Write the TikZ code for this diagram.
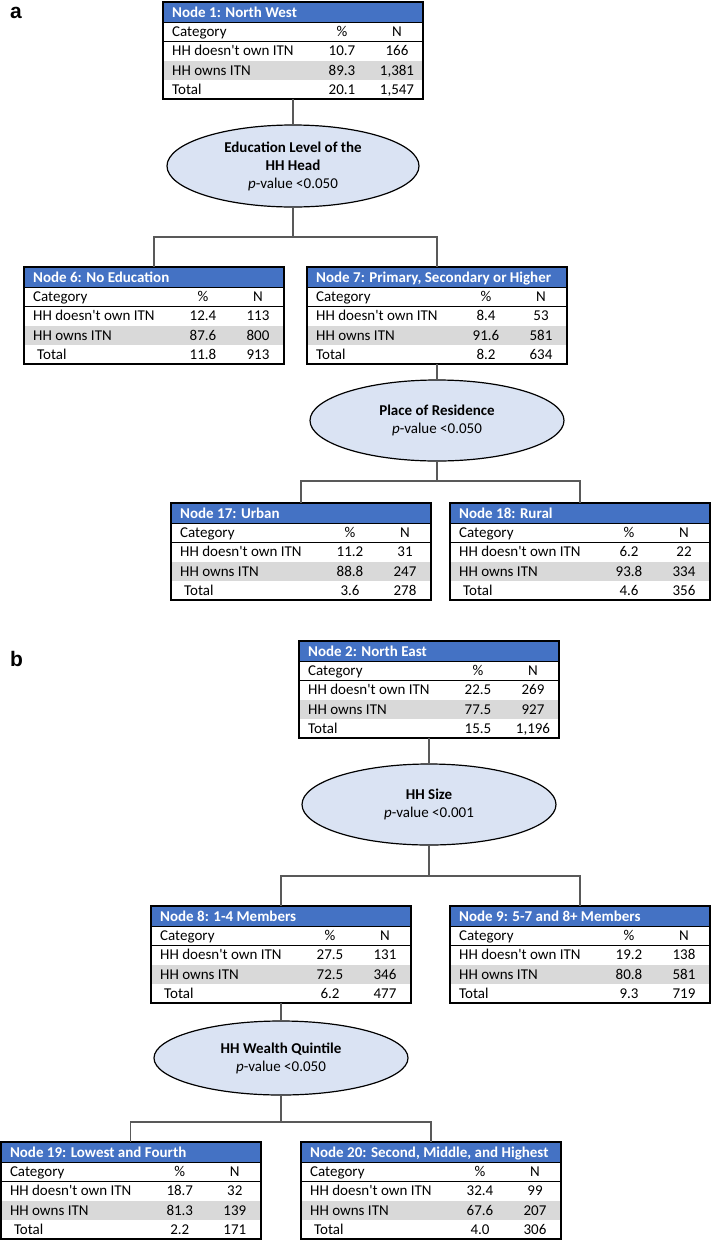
\documentclass[tikz,border=0pt]{standalone}
\usepackage{fontspec}
\setmainfont{Carlito}[Ligatures=TeXOff]
\newfontfamily\labelfont{Liberation Sans}
\usetikzlibrary{shapes.geometric}
\definecolor{hdrblue}{HTML}{4472C4}
\definecolor{rowgrey}{HTML}{D9D9D9}
\definecolor{ellfill}{HTML}{DAE3F3}
\definecolor{connc}{HTML}{595959}
\tikzset{
  boxframe/.style={draw=black, line width=1.6pt, minimum width=260pt, minimum height=97pt, inner sep=0pt, outer sep=0pt, anchor=north west},
  sepline/.style={draw=black, line width=0.8pt},
  celltext/.style={anchor=west, inner sep=0pt, text height=9.7pt, text depth=0pt, font=\fontsize{15}{18}\selectfont},
  numtext/.style={anchor=center, inner sep=0pt, text height=9.7pt, text depth=0pt, font=\fontsize{15}{18}\selectfont},
  hdrtext/.style={celltext, text=white, font=\fontsize{15}{18}\selectfont\bfseries},
  splitnode/.style={ellipse, draw=black, line width=1.2pt, fill=ellfill, align=center, inner sep=0pt, font=\fontsize{15}{18}\selectfont},
  conn/.style={draw=connc, line width=1.1pt},
  panellabel/.style={anchor=base west, inner sep=0pt, font=\labelfont\bfseries\fontsize{21}{24}\selectfont},
}
% name, x, y (top), header
\newcommand\tablebox[4]{%
  \begin{scope}[shift={(#2,#3)}]
    \fill[hdrblue] (0,0) rectangle (260,20);
    \fill[rowgrey] (0,58.6) rectangle (260,78);
    \draw[sepline] (0,20) -- (260,20);
    \draw[sepline] (0,39.2) -- (260,39.2);
    \node[hdrtext] at (9,10.3) {#4};
    \node[celltext] at (9,29.6) {Category};
    \node[numtext] at (179,29.6) {\%};
    \node[numtext] at (234,29.6) {N};
  \end{scope}
  \node[boxframe] (#1) at (#2,#3) {};
}
% name, p1, n1, p2, n2, p3, n3, total label
\newcommand\tablerows[8]{%
  \begin{scope}[shift={(#1.north west)}]
    \node[celltext] at (9,48.9) {HH doesn't own ITN};
    \node[numtext] at (179,48.9) {#2};
    \node[numtext] at (234,48.9) {#3};
    \node[celltext] at (9,68.3) {HH owns ITN};
    \node[numtext] at (179,68.3) {#4};
    \node[numtext] at (234,68.3) {#5};
    \node[celltext] at (9,87.6) {#8};
    \node[numtext] at (179,87.6) {#6};
    \node[numtext] at (234,87.6) {#7};
  \end{scope}}
\newcommand\ind{\hspace{4pt}}
\begin{document}
\begin{tikzpicture}[x=1pt,y=-1pt]
\useasboundingbox (0,0) rectangle (711,1240);
% ---------- panel a ----------
\node[panellabel] (la) at (10,18) {a};
\tablebox{n1}{163}{2}{Node 1: North West}
\tablerows{n1}{10.7}{166}{89.3}{1,381}{20.1}{1,547}{Total}
\node[splitnode, minimum width=252pt, minimum height=82pt] (e1) at (293,166)
  {\textbf{Education Level of the}\\\textbf{HH Head}\\\textit{p}-value <0.050};
\tablebox{n6}{24}{267}{Node 6: No Education}
\tablerows{n6}{12.4}{113}{87.6}{800}{11.8}{913}{\ind Total}
\tablebox{n7}{307}{267}{Node 7: Primary, Secondary or Higher}
\tablerows{n7}{8.4}{53}{91.6}{581}{8.2}{634}{Total}
\node[splitnode, minimum width=254pt, minimum height=81pt] (e2) at (437,420.5)
  {\textbf{Place of Residence}\\\textit{p}-value <0.050};
\tablebox{n17}{171}{503}{Node 17: Urban}
\tablerows{n17}{11.2}{31}{88.8}{247}{3.6}{278}{\ind Total}
\tablebox{n18}{450}{503}{Node 18: Rural}
\tablerows{n18}{6.2}{22}{93.8}{334}{4.6}{356}{\ind Total}
\coordinate (j1) at (293,237);
\coordinate (j2) at (437,481);
\draw[conn] (n1.south) -- (e1.north);
\draw[conn] (e1.south) -- (j1);
\draw[conn] (n6.north) |- (j1) -| (n7.north);
\draw[conn] (n7.south) -- (e2.north);
\draw[conn] (e2.south) -- (j2);
\draw[conn] (n17.north) |- (j2) -| (n18.north);
% ---------- panel b ----------
\node[panellabel] (lb) at (10,666) {b};
\tablebox{n2}{299}{641}{Node 2: North East}
\tablerows{n2}{22.5}{269}{77.5}{927}{15.5}{1,196}{Total}
\node[splitnode, minimum width=254pt, minimum height=81pt] (e3) at (429,804.5)
  {\textbf{HH Size}\\\textit{p}-value <0.001};
\tablebox{n8}{151}{906}{Node 8: 1-4 Members}
\tablerows{n8}{27.5}{131}{72.5}{346}{6.2}{477}{\ind Total}
\tablebox{n9}{450}{906}{Node 9: 5-7 and 8+ Members}
\tablerows{n9}{19.2}{138}{80.8}{581}{9.3}{719}{Total}
\node[splitnode, minimum width=254pt, minimum height=74pt] (e4) at (281,1058)
  {\textbf{HH Wealth Quintile}\\\textit{p}-value <0.050};
\tablebox{n19}{0.8}{1142}{Node 19: Lowest and Fourth}
\tablerows{n19}{18.7}{32}{81.3}{139}{2.2}{171}{\ind Total}
\tablebox{n20}{301}{1142}{Node 20: Second, Middle, and Highest}
\tablerows{n20}{32.4}{99}{67.6}{207}{4.0}{306}{\ind Total}
\coordinate (j3) at (429,876);
\coordinate (j4) at (281,1122);
\draw[conn] (n2.south) -- (e3.north);
\draw[conn] (e3.south) -- (j3);
\draw[conn] (n8.north) |- (j3) -| (n9.north);
\draw[conn] (n8.south) -- (e4.north);
\draw[conn] (e4.south) -- (j4);
\draw[conn] (n19.north) |- (j4) -| (n20.north);
\end{tikzpicture}
\end{document}
